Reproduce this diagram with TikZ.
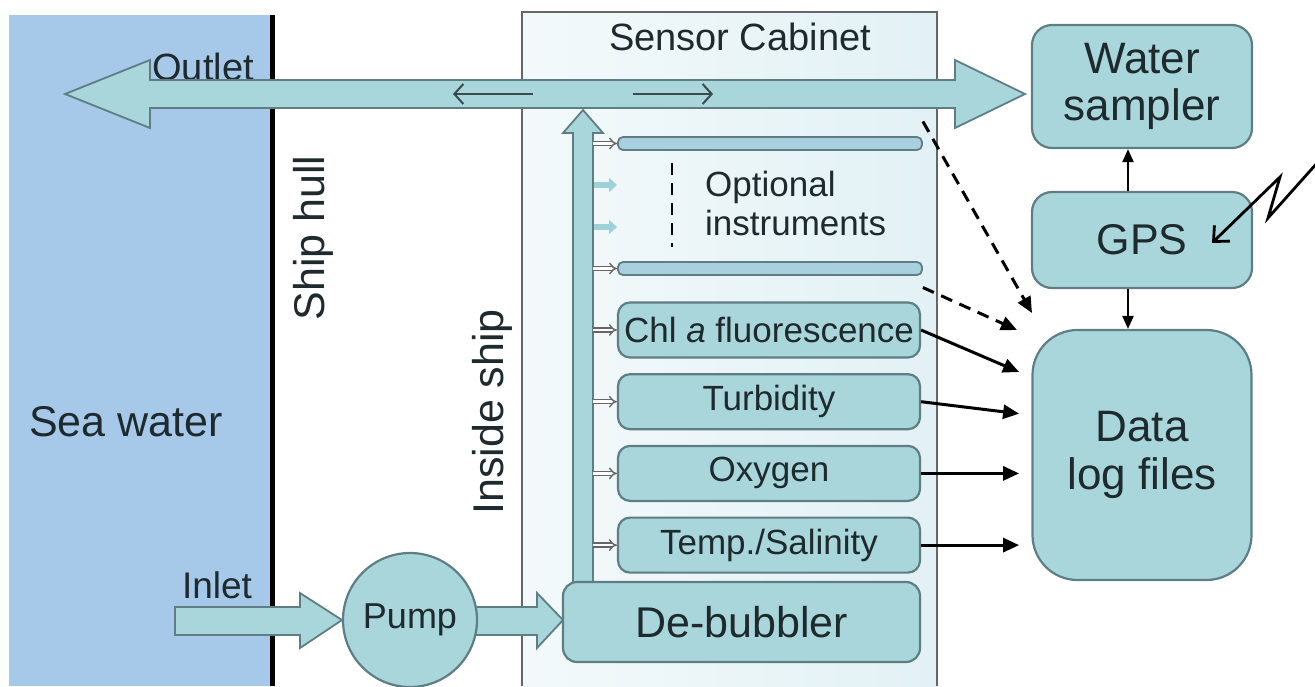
\documentclass[tikz,border=0pt]{standalone}
\usepackage{fontspec}
\setmainfont{Liberation Sans}
\usetikzlibrary{positioning, arrows.meta, calc}
\definecolor{seablue}{HTML}{A6C9EA}
\definecolor{boxfill}{HTML}{A8D6DB}
\definecolor{boxline}{HTML}{5E7E84}
\definecolor{cabfill}{HTML}{E2F1F5}
\definecolor{barfill}{HTML}{A9D0DE}
\definecolor{fadedfill}{HTML}{9FD2D8}
\definecolor{inktext}{HTML}{1E2A2E}

\begin{document}
\begin{tikzpicture}[
    x=1pt, y=-1pt,
    every node/.style={font=\fontsize{35}{39}\selectfont, text=inktext, inner sep=0pt},
    box/.style={draw=boxline, fill=boxfill, line width=2.2pt, rounded corners=12pt, align=center},
    instr/.style={box, minimum width=302pt, minimum height=55pt},
    bigtext/.style={font=\fontsize{43}{48}\selectfont},
    pipe/.style={draw=boxline, fill=boxfill, line width=1.8pt},
    bar/.style={draw=boxline, fill=barfill, line width=1.8pt, rounded corners=5pt, minimum width=304pt, minimum height=13pt},
    feed/.style={draw=gray!80!black, double=white, double distance=2.5pt, line width=1.4pt, -{Implies}},
    fadedarrow/.style={draw=fadedfill, line width=6pt, -{Triangle[length=8pt,width=14pt]}},
    flowdir/.style={draw=boxline!60!black, line width=2pt, -{Straight Barb[length=9pt,width=20pt]}},
    datalink/.style={draw=black, line width=3pt, -{Triangle[length=16pt,width=14pt]}},
    optlink/.style={datalink, dash pattern=on 12pt off 8pt},
    gpslink/.style={draw=black, line width=2.2pt, -{Triangle[length=13pt,width=11pt]}}
]
\useasboundingbox (0,0) rectangle (1315,686);

% sea and hull
\fill[seablue] (9,15) rectangle (271,686);
\node[bigtext, anchor=west] (sea) at (29,422) {Sea water};
\node[font=\fontsize{38}{42}\selectfont] (outlet) at (203,67) {Outlet};
\node[font=\fontsize{37}{40}\selectfont] (inlet) at (217,585) {Inlet};
\draw[line width=5pt] (272,15) -- (272,686);
\node[bigtext, rotate=90] (hull) at (313,238) {Ship hull};
\node[bigtext, rotate=90] (inside) at (492,412) {Inside ship};

% sensor cabinet
\fill[left color=cabfill!40!white, right color=cabfill] (522,12) rectangle (937,686);
\draw[gray!80!black, line width=2pt] (522,686) -- (522,12) -- (937,12) -- (937,686);
\node[font=\fontsize{38}{42}\selectfont] (cabinet) at (740,37) {Sensor Cabinet};

% water path
\path[pipe] (573,590) -- (573,133) -- (563,133) -- (583,110) -- (603,133) -- (593,133) -- (593,590) -- cycle;
\path[pipe] (65,94) -- (150,60) -- (150,80) -- (955,80) -- (955,60) -- (1025,94) -- (955,128) -- (955,108) -- (150,108) -- (150,128) -- cycle;
\draw[flowdir] (533,94) -- (453,94);
\draw[flowdir] (633,94) -- (713,94);
\path[pipe] (175,607) -- (300,607) -- (300,593) -- (342,620) -- (300,648) -- (300,635) -- (175,635) -- cycle;
\path[pipe] (470,607) -- (537,607) -- (537,593) -- (563,620) -- (537,648) -- (537,635) -- (470,635) -- cycle;

\node[box, circle, minimum size=134pt, font=\fontsize{36}{40}\selectfont] (pump) at (410,620) {Pump};
\node[box, bigtext, rounded corners=14pt, minimum width=357pt, minimum height=80pt] (debubbler) at (741.5,622) {De-bubbler};

% instruments
\node[bar] (opt1) at (770,143.5) {};
\node[bar] (opt2) at (770,268.5) {};
\draw[dash pattern=on 12pt off 8pt, line width=2.5pt] (672,163) -- (672,247);
\node[anchor=west, align=left] (optional) at (705,203) {Optional\\instruments};
\node[instr] (chl) at (769,330) {Chl \textit{a} fluorescence};
\node[instr, below=14.5pt of chl] (turb) {Turbidity};
\node[instr, below=14.5pt of turb] (oxy) {Oxygen};
\node[instr, below=14.5pt of oxy] (temp) {Temp./Salinity};

\foreach \n in {opt1, opt2, chl, turb, oxy, temp}
    \draw[feed] ([xshift=-24pt]\n.west) -- (\n.west);
\foreach \y in {185, 227}
    \draw[fadedarrow] (594,\y) -- (617,\y);

% logging side
\node[box, rounded corners=20pt, minimum width=220pt, minimum height=123pt, font=\fontsize{44}{47}\selectfont] (sampler) at (1142,86.5) {Water\\sampler};
\node[box, bigtext, rounded corners=20pt, minimum width=220pt, minimum height=96pt] (gps) at (1142,240) {GPS};
\node[box, rounded corners=45pt, minimum width=219pt, minimum height=250pt, font=\fontsize{44}{48}\selectfont] (data) at (1142,455) {Data\\log files};

\draw[gpslink] (gps.north -| 1128,0) -- (sampler.south -| 1128,0);
\draw[gpslink] (gps.south -| 1128,0) -- (data.north -| 1128,0);
\draw[line width=2.8pt, -{Straight Barb[length=12pt,width=22pt]}] (1318,162) -- (1268,218) -- (1280,177) -- (1212,243);

\draw[optlink] ([yshift=22pt]opt1.east) -- (1032,313);
\draw[optlink] ([yshift=-19pt]opt2.east) -- (1017,330);
\draw[datalink] (chl.east) -- ++(98,42);
\draw[datalink] (turb.east) -- ++(98,12);
\draw[datalink] (oxy.east) -- ++(98,0);
\draw[datalink] (temp.east) -- ++(98,0);
\end{tikzpicture}
\end{document}
